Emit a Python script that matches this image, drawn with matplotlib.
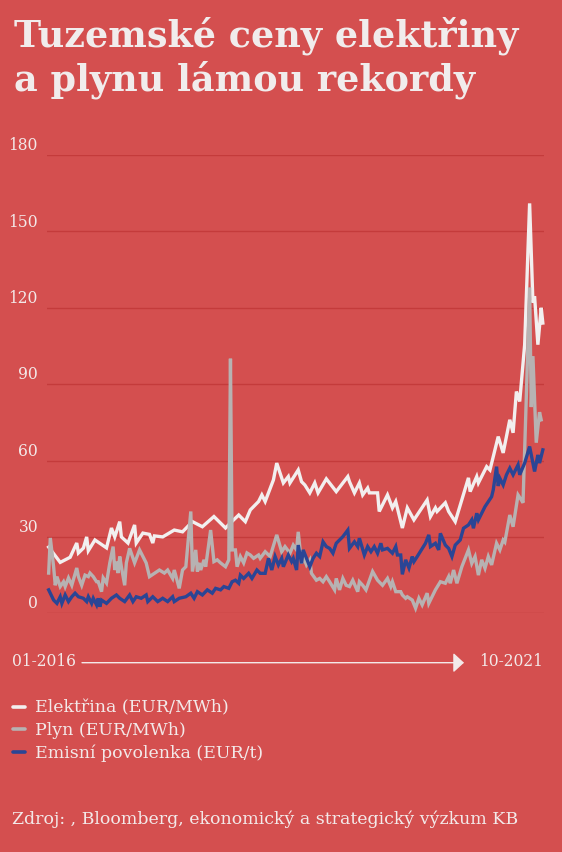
import matplotlib
matplotlib.use("Agg")
import matplotlib.pyplot as plt
from matplotlib.lines import Line2D
from matplotlib.transforms import blended_transform_factory, ScaledTranslation

# ---------------- data (week index since 01-2016) ----------------
elec_week = [1, 8, 14, 18, 19, 22, 24, 25, 29, 36, 39, 41, 44, 45, 49, 53, 54, 58, 62, 64,
             65, 70, 77, 82, 88, 94, 101, 108, 111, 116, 120, 123, 128, 130, 132, 137, 139, 143, 146, 147,
             152, 154, 156, 159, 162, 164, 169, 175, 182, 183, 186, 189, 191, 194, 195, 200, 201, 206, 209, 211,
             215, 218, 222, 230, 232, 235, 236, 241, 243, 247, 255, 256, 260, 261, 266, 268, 273, 276, 280, 282,
             284, 286, 289, 292, 294, 295, 297, 299, 300]
elec_val = [26, 20, 22, 27.6, 23.7, 25.6, 30, 24.6, 28.8, 25.7, 33.5, 30, 36, 30, 27.6, 34.7, 27.6, 31.5, 31, 27.6,
            30.4, 30, 32.7, 32, 36, 34, 38, 33.5, 35.5, 38.6, 36, 40.6, 43.9, 46.5, 43.9, 52.4, 59, 51.2, 53.7, 51.2,
            56.3, 51.7, 50.4, 47.3, 51.2, 47.3, 52.8, 47.8, 53.7, 51.7, 47.3, 51.2, 46.5, 49.2, 47.3, 47.3, 40, 46.5, 41.4, 43.9,
            33.5, 41.4, 36.7, 44.5, 38, 41.4, 40, 43.4, 40, 36, 53.2, 47.8, 53.7, 51.2, 57.6, 56.3, 69.4, 63, 76, 70.9,
            87.1, 83.2, 105.5, 161, 122, 124.5, 105.5, 120, 114]

gas_week = [1, 2, 4, 5, 6, 8, 10, 11, 13, 15, 18, 19, 21, 23, 25, 26, 28, 30, 31, 33,
            34, 36, 38, 40, 41, 42, 43, 44, 45, 47, 48, 50, 53, 56, 60, 62, 68, 71, 73, 76,
            77, 80, 82, 84, 87, 88, 90, 91, 92, 93, 95, 96, 99, 101, 103, 105, 108, 110, 111, 112,
            114, 115, 117, 119, 121, 123, 125, 128, 129, 132, 135, 139, 142, 144, 147, 149, 151, 152, 154, 155,
            157, 159, 160, 163, 165, 167, 169, 171, 174, 175, 177, 179, 181, 183, 185, 188, 189, 191, 193, 197,
            200, 203, 206, 208, 209, 211, 214, 215, 217, 218, 221, 223, 225, 227, 230, 231, 235, 238, 241, 243,
            244, 246, 248, 251, 255, 257, 259, 261, 263, 265, 267, 269, 272, 274, 276, 277, 280, 282, 285, 287,
            288, 290, 292, 293, 294, 296, 298, 299]
gas_val = [15.8, 29.6, 18.3, 11, 14.4, 10.5, 12.4, 10.5, 13.9, 11, 17.8, 14.4, 11, 15, 14.4, 15.8, 14.4, 12.4, 12.4, 8.5,
           13.9, 11.9, 19.8, 26.2, 17, 20.3, 15.8, 22.3, 18.3, 11, 19.8, 25.5, 19.8, 24.9, 19.8, 14.4, 17, 15.8, 17, 13.7,
           17, 9.8, 17, 18.3, 40, 16.4, 24.9, 16.4, 19.8, 17, 21, 18.3, 32.7, 20.3, 21, 19.8, 18.3, 21, 100, 24.9,
           24.9, 18.3, 22.3, 19.8, 23.7, 22.9, 21.6, 22.9, 21.6, 24.2, 22.3, 30.8, 24.2, 26.2, 23.6, 26.8, 24.9, 32, 19.6, 22.3,
           19, 21, 15.7, 13, 13.7, 12.4, 14.4, 12.4, 9.2, 13.7, 9.2, 13.7, 11, 10.5, 13, 8.5, 12.4, 11, 9.2, 16.4,
           13, 11, 13.7, 10.5, 12.4, 8.5, 8.5, 7.2, 5.9, 6.5, 5.2, 2, 5.9, 3.3, 7.9, 3.9, 9.2, 12.4, 11.8, 14.4,
           11.8, 17, 11.8, 18.3, 24.9, 19.6, 22.3, 15, 21, 17.7, 22.3, 19, 27.5, 24.9, 28.8, 28, 38.6, 34, 46.5, 44.5,
           43.4, 85, 128, 81, 101, 67, 79, 76]

co2_week = [1, 4, 6, 8, 9, 11, 13, 15, 17, 19, 22, 24, 25, 27, 28, 30, 31, 32, 33, 36,
            39, 42, 44, 47, 50, 52, 54, 57, 60, 61, 64, 67, 70, 73, 76, 77, 80, 84, 87, 89,
            91, 94, 97, 100, 102, 105, 107, 110, 112, 114, 116, 117, 119, 122, 124, 127, 129, 132, 134, 136,
            138, 140, 142, 143, 146, 148, 149, 151, 152, 154, 155, 157, 159, 161, 163, 165, 167, 169, 171, 173,
            175, 179, 182, 183, 186, 188, 189, 192, 194, 196, 198, 200, 202, 203, 206, 209, 211, 212, 214, 215,
            217, 219, 221, 222, 224, 229, 231, 232, 235, 237, 238, 241, 243, 245, 247, 250, 252, 255, 257, 258,
            260, 261, 265, 269, 270, 272, 273, 274, 276, 278, 280, 282, 285, 286, 289, 292, 295, 297, 298, 300]
co2_val = [9.2, 5.2, 3.9, 6.5, 3.9, 7.2, 4.6, 6.5, 7.9, 6.5, 5.9, 4.6, 6.5, 3.9, 5.9, 3.3, 5.9, 2.6, 5.2, 3.9,
           5.9, 7.2, 5.9, 4.6, 7.2, 4.6, 6.5, 5.9, 7.2, 4.6, 6.5, 4.6, 5.9, 4.6, 6.5, 4.6, 5.9, 6.5, 7.9, 5.9,
           8.5, 7.2, 9.2, 7.9, 9.8, 9.2, 10.5, 9.8, 12.4, 13, 11.8, 15, 13.7, 15.7, 13.7, 17, 15.7, 15.7, 21.6, 17,
           22.3, 19, 21.6, 18.3, 22.9, 20.3, 21.6, 17, 26.8, 19.6, 24.9, 21.6, 18.3, 21.6, 23.6, 22.3, 28.1, 26.2, 25.5, 23.6,
           27.5, 30.1, 32.7, 25.5, 28.1, 26.2, 29.5, 22.9, 26.2, 24.2, 26.2, 23.6, 27.5, 24.9, 25.5, 23.6, 26.2, 22.9, 22.9, 15.3,
           21, 17.8, 22.3, 20.3, 22.3, 27.5, 30.8, 26.2, 27.5, 24.9, 31.4, 26.8, 25.5, 22.3, 26.8, 28.8, 33.4, 34.7, 36.7, 33.4,
           39.3, 36.7, 41.9, 45.8, 48.5, 57.6, 50, 53, 50.4, 54.4, 57, 54.4, 58.3, 54.4, 59, 65.5, 55.7, 62.2, 59, 64.2]

series_names = ["Elektřina (EUR/MWh)", "Plyn (EUR/MWh)", "Emisní povolenka (EUR/t)"]
y_ticks = [0, 30, 60, 90, 120, 150, 180]
x_start_label = "01-2016"
x_end_label = "10-2021"
title_lines = ["Tuzemské ceny elektřiny", "a plynu lámou rekordy"]
source_text = "Zdroj: , Bloomberg, ekonomický a strategický výzkum KB"

# ---------------- style ----------------
BG = "#D44F4F"
GRID = "#C43B3B"
TXT = "#F3E9E9"
C_ELEC = "#F2EFEF"
C_GAS = "#B7B2B2"
C_CO2 = "#2A4595"
W, H = 562, 852

def fx(px):
    return px / W

def fy(py):
    return 1 - py / H

fig = plt.figure(figsize=(W / 100, H / 100), dpi=100, facecolor=BG)
ax = fig.add_axes([fx(47), fy(613.3), fx(544) - fx(47), fy(155) - fy(613.3)])
ax.set_facecolor(BG)
ax.set_xlim(0, 300.7)
ax.set_ylim(0, 180)
for s in ax.spines.values():
    s.set_visible(False)
ax.set_xticks([])
ax.set_yticks([])

for t in y_ticks:
    ax.axhline(t, color=GRID, lw=1.0, zorder=1)

lw = 2.4
ax.plot(elec_week, elec_val, color=C_ELEC, lw=lw, zorder=3, clip_on=False, solid_joinstyle="miter")
ax.plot(gas_week, gas_val, color=C_GAS, lw=lw, zorder=4, clip_on=False, solid_joinstyle="miter")
ax.plot(co2_week, co2_val, color=C_CO2, lw=lw, zorder=5, clip_on=False, solid_joinstyle="miter")

SERIF = ["DejaVu Serif"]
FS_TICK = 11.2
FS = 12.5
trans = blended_transform_factory(fig.transFigure, ax.transData) + ScaledTranslation(0, 3.5 / 72, fig.dpi_scale_trans)
for t in y_ticks:
    fig.text(fx(38), t, str(t), transform=trans, ha="right", va="baseline",
             color=TXT, fontsize=FS_TICK, family=SERIF)

# title
for i, line in enumerate(title_lines):
    fig.text(fx(14), fy(46.7 + i * 44), line, ha="left", va="baseline", color="#F1ECEC",
             fontsize=26.3, fontweight="bold", family=SERIF)

# x axis annotation
fig.text(fx(12), fy(666), x_start_label, ha="left", va="baseline", color=TXT, fontsize=FS_TICK, family=SERIF)
fig.text(fx(543), fy(666), x_end_label, ha="right", va="baseline", color=TXT, fontsize=FS_TICK, family=SERIF)
fig.add_artist(matplotlib.patches.FancyArrowPatch(
    (fx(82), fy(662.7)), (fx(464), fy(662.7)), transform=fig.transFigure,
    arrowstyle="-|>,head_length=0.65,head_width=0.6", mutation_scale=10,
    color=TXT, lw=1.0, shrinkA=0, shrinkB=0))

# legend
colors = [C_ELEC, C_GAS, C_CO2]
for i, (name, c) in enumerate(zip(series_names, colors)):
    yy = 706.7 + i * 22.7
    fig.add_artist(Line2D([fx(13), fx(25)], [fy(yy), fy(yy)], transform=fig.transFigure,
                          color=c, lw=2.6, solid_capstyle="round"))
    fig.text(fx(35), fy(yy + 6), name, ha="left", va="baseline", color=TXT, fontsize=FS, family=SERIF)

fig.text(fx(12), fy(824.3), source_text, ha="left", va="baseline", color=TXT, fontsize=FS, family=SERIF)

fig.savefig("out.png", dpi=100, facecolor=BG)
